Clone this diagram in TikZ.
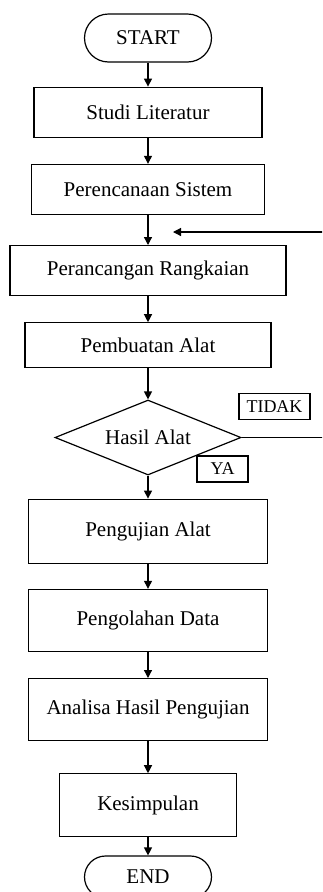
\documentclass[tikz,border=0pt]{standalone}
\usepackage{fontspec}
\setmainfont{Liberation Serif}
\usetikzlibrary{positioning, arrows.meta, shapes.geometric}

\begin{document}
\begin{tikzpicture}[x=1pt, y=-1pt, node distance=26pt, line width=1.2pt,
    every node/.style={font=\fontsize{21}{25}\selectfont},
    proses/.style={draw, minimum height=50pt, inner sep=2pt},
    terminal/.style={draw, rounded corners=24pt, minimum width=127pt, minimum height=48pt},
    keputusan/.style={draw, diamond, aspect=2.5, inner sep=0pt, minimum width=186pt, minimum height=75pt},
    ket/.style={draw, font=\fontsize{18}{21}\selectfont, minimum height=26pt, inner sep=2pt},
    panah/.style={-{Triangle[length=8pt, width=8pt]}}]
    \useasboundingbox (0,0) rectangle (322,892);
    \clip (0,0) rectangle (322,892);
    \node[terminal] (start) at (148,38) {START};
    \node[proses, minimum width=228pt, below=24pt of start] (studi) {Studi Literatur};
    \node[proses, minimum width=233pt, below=of studi] (rencana) {Perencanaan Sistem};
    \node[proses, minimum width=276pt, below=30pt of rencana] (rancang) {Perancangan Rangkaian};
    \node[proses, minimum width=246pt, minimum height=45pt, below=of rancang] (buat) {Pembuatan Alat};
    \node[keputusan, below=31pt of buat] (hasil) {Hasil Alat};
    \node[proses, minimum width=239pt, minimum height=64pt, below=23pt of hasil] (uji) {Pengujian Alat};
    \node[proses, minimum width=239pt, minimum height=62pt, below=25pt of uji] (olah) {Pengolahan Data};
    \node[proses, minimum width=239pt, minimum height=62pt, below=of olah] (analisa) {Analisa Hasil Pengujian};
    \node[proses, minimum width=177pt, minimum height=63pt, below=32pt of analisa] (simpul) {Kesimpulan};
    \node[terminal, minimum height=42pt, rounded corners=21pt, below=18pt of simpul] (end) {END};
    \node[ket, minimum width=71pt] (tidak) at (274.5,406.5) {TIDAK};
    \node[ket, minimum width=51pt] (ya) at (222.5,469) {YA};
    \coordinate (balik) at (173,232);
    \draw[panah] (start) -- (studi);
    \draw[panah] (studi) -- (rencana);
    \draw[panah] (rencana) -- (rancang);
    \draw[panah] (rancang) -- (buat);
    \draw[panah] (buat) -- (hasil);
    \draw[panah] (hasil) -- (uji);
    \draw[panah] (uji) -- (olah);
    \draw[panah] (olah) -- (analisa);
    \draw[panah] (analisa) -- (simpul);
    \draw[panah] (simpul) -- (end);
    \draw[panah] (hasil.east) -- ++(100pt,0) |- (balik);
\end{tikzpicture}
\end{document}
